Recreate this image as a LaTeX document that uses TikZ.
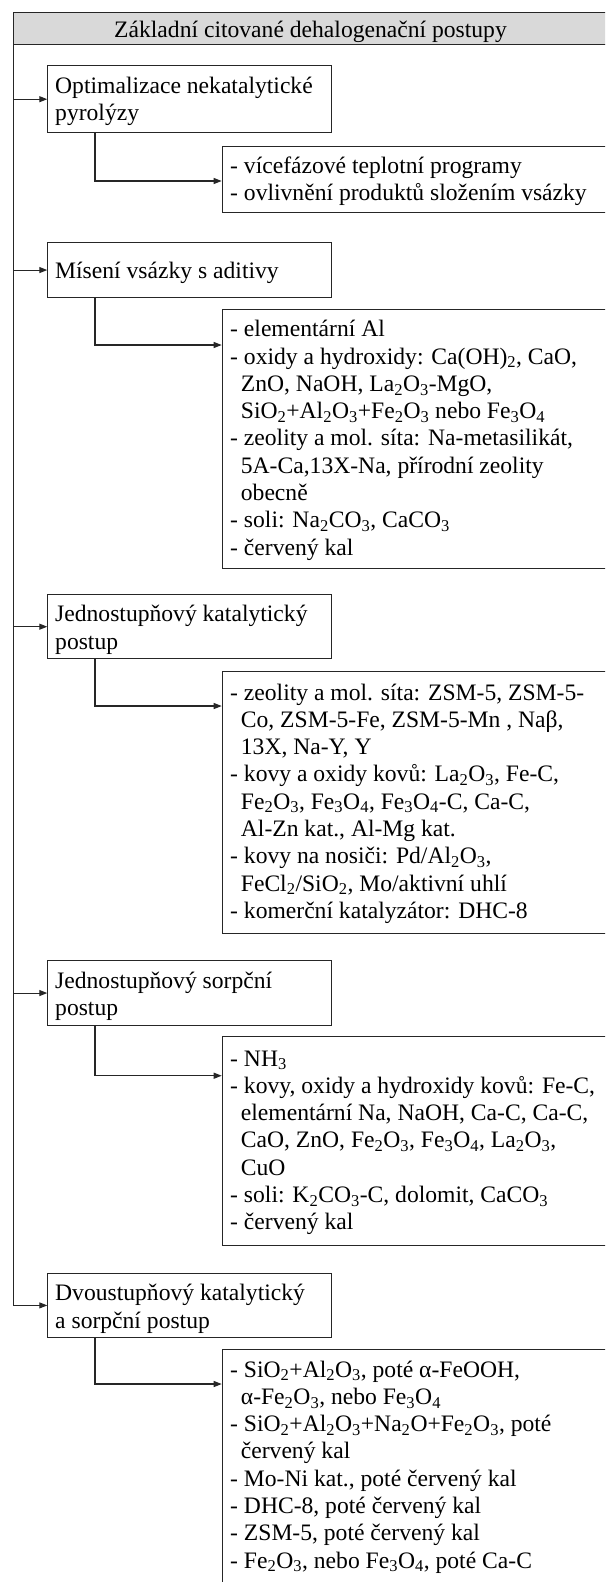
\documentclass[tikz,border=0pt]{standalone}
\usepackage{fontspec}
\setmainfont{Liberation Serif}
\usetikzlibrary{arrows.meta,calc}
\newcommand\fs{\fontsize{23.6}{27.3}\selectfont}
\newcommand\ssub[1]{\textsubscript{#1}}
\newcommand\ind{\hspace*{10.7pt}}
\newcommand\tlines[1]{\begin{tabular}[t]{@{}l@{}}#1\end{tabular}}
\tikzset{
  bx/.style={draw=black!85, line width=1.1pt, inner sep=0pt, anchor=north west},
  catbox/.style={bx, minimum width=283.7pt},
  listbox/.style={bx, minimum width=420pt},
  txt/.style={anchor=base west, inner sep=0pt, font=\fs},
  ln/.style={draw=black!85, line width=1.1pt},
  arr/.style={ln, -{Triangle[length=8pt,width=6pt]}},
}
\begin{document}
\begin{tikzpicture}[x=1pt,y=-1pt]
\useasboundingbox (0,0) rectangle (605,1582);
\fill[white] (0,0) rectangle (605,1582);
\clip (0,0) rectangle (605,1582);
% header
\node[bx, fill=black!15, minimum width=594.4pt, minimum height=32pt] (hdr) at (13.3,12.3) {};
\node[anchor=base, inner sep=0pt, font=\fs] (ht) at (310.5,37.5) {Základní citované dehalogenační postupy};
% category boxes
\node[catbox, minimum height=67.3pt] (c1) at (47.3,65) {};
\node[catbox, minimum height=54.4pt] (c2) at (47.3,242.3) {};
\node[catbox, minimum height=64.3pt] (c3) at (47.3,594) {};
\node[catbox, minimum height=64.4pt] (c4) at (47.3,960.3) {};
\node[catbox, minimum height=63.7pt] (c5) at (47.3,1273) {};
% list boxes
\node[listbox, minimum height=66.3pt] (l1) at (221.7,146) {};
\node[listbox, minimum height=258.4pt] (l2) at (221.7,309.3) {};
\node[listbox, minimum height=262pt] (l3) at (221.7,670.7) {};
\node[listbox, minimum height=208.7pt] (l4) at (221.7,1036) {};
\node[listbox, minimum height=400pt] (l5) at (221.7,1349) {};
% category texts
\node[txt] (t1) at (55,93.5) {\tlines{Optimalizace nekatalytické\\pyrolýzy}};
\node[txt] (t2) at (55,278) {Mísení vsázky s aditivy};
\node[txt] (t3) at (55,621.7) {\tlines{Jednostupňový katalytický\\postup}};
\node[txt] (t4) at (55,988) {\tlines{Jednostupňový sorpční\\postup}};
\node[txt] (t5) at (55,1300.7) {\tlines{Dvoustupňový katalytický\\a sorpční postup}};
% list texts
\node[txt] (u1) at (230,173.4) {\tlines{- vícefázové teplotní programy\\- ovlivnění produktů složením vsázky}};
\node[txt] (u2) at (230,336.7) {\tlines{- elementární Al\\
- oxidy a hydroxidy: Ca(OH)\ssub{2}, CaO,\\
\ind ZnO, NaOH, La\ssub{2}O\ssub{3}-MgO,\\
\ind SiO\ssub{2}+Al\ssub{2}O\ssub{3}+Fe\ssub{2}O\ssub{3} nebo Fe\ssub{3}O\ssub{4}\\
- zeolity a mol. síta: Na-metasilikát,\\
\ind 5A-Ca,13X-Na, přírodní zeolity\\
\ind obecně\\
- soli: Na\ssub{2}CO\ssub{3}, CaCO\ssub{3}\\
- červený kal}};
\node[txt] (u3) at (230,700) {\tlines{- zeolity a mol. síta: ZSM-5, ZSM-5-\\
\ind Co, ZSM-5-Fe, ZSM-5-Mn , Naβ,\\
\ind 13X, Na-Y, Y\\
- kovy a oxidy kovů: La\ssub{2}O\ssub{3}, Fe-C,\\
\ind Fe\ssub{2}O\ssub{3}, Fe\ssub{3}O\ssub{4}, Fe\ssub{3}O\ssub{4}-C, Ca-C,\\
\ind Al-Zn kat., Al-Mg kat.\\
- kovy na nosiči: Pd/Al\ssub{2}O\ssub{3},\\
\ind FeCl\ssub{2}/SiO\ssub{2}, Mo/aktivní uhlí\\
- komerční katalyzátor: DHC-8}};
\node[txt] (u4) at (230,1066) {\tlines{- NH\ssub{3}\\
- kovy, oxidy a hydroxidy kovů: Fe-C,\\
\ind elementární Na, NaOH, Ca-C, Ca-C,\\
\ind CaO, ZnO, Fe\ssub{2}O\ssub{3}, Fe\ssub{3}O\ssub{4}, La\ssub{2}O\ssub{3},\\
\ind CuO\\
- soli: K\ssub{2}CO\ssub{3}-C, dolomit, CaCO\ssub{3}\\
- červený kal}};
\node[txt] (u5) at (230,1377) {\tlines{- SiO\ssub{2}+Al\ssub{2}O\ssub{3}, poté α-FeOOH,\\
\ind α-Fe\ssub{2}O\ssub{3}, nebo Fe\ssub{3}O\ssub{4}\\
- SiO\ssub{2}+Al\ssub{2}O\ssub{3}+Na\ssub{2}O+Fe\ssub{2}O\ssub{3}, poté\\
\ind červený kal\\
- Mo-Ni kat., poté červený kal\\
- DHC-8, poté červený kal\\
- ZSM-5, poté červený kal\\
- Fe\ssub{2}O\ssub{3}, nebo Fe\ssub{3}O\ssub{4}, poté Ca-C}};
% trunk
\draw[ln] (hdr.south west) -- (hdr.south west |- c5.west);
\foreach \c in {c1,c2,c3,c4,c5}{
  \draw[arr] (hdr.south west |- \c.west) -- (\c.west);
}
% connectors
\draw[arr] ($(c1.south west)+(47.7,0)$) |- ($(l1.north west)+(0,35)$);
\draw[arr] ($(c2.south west)+(47.7,0)$) |- ($(l2.north west)+(0,35.7)$);
\draw[arr] ($(c3.south west)+(47.7,0)$) |- ($(l3.north west)+(0,35.3)$);
\draw[arr] ($(c4.south west)+(47.7,0)$) |- ($(l4.north west)+(0,39.7)$);
\draw[arr] ($(c5.south west)+(47.7,0)$) |- ($(l5.north west)+(0,35)$);
\end{tikzpicture}
\end{document}
